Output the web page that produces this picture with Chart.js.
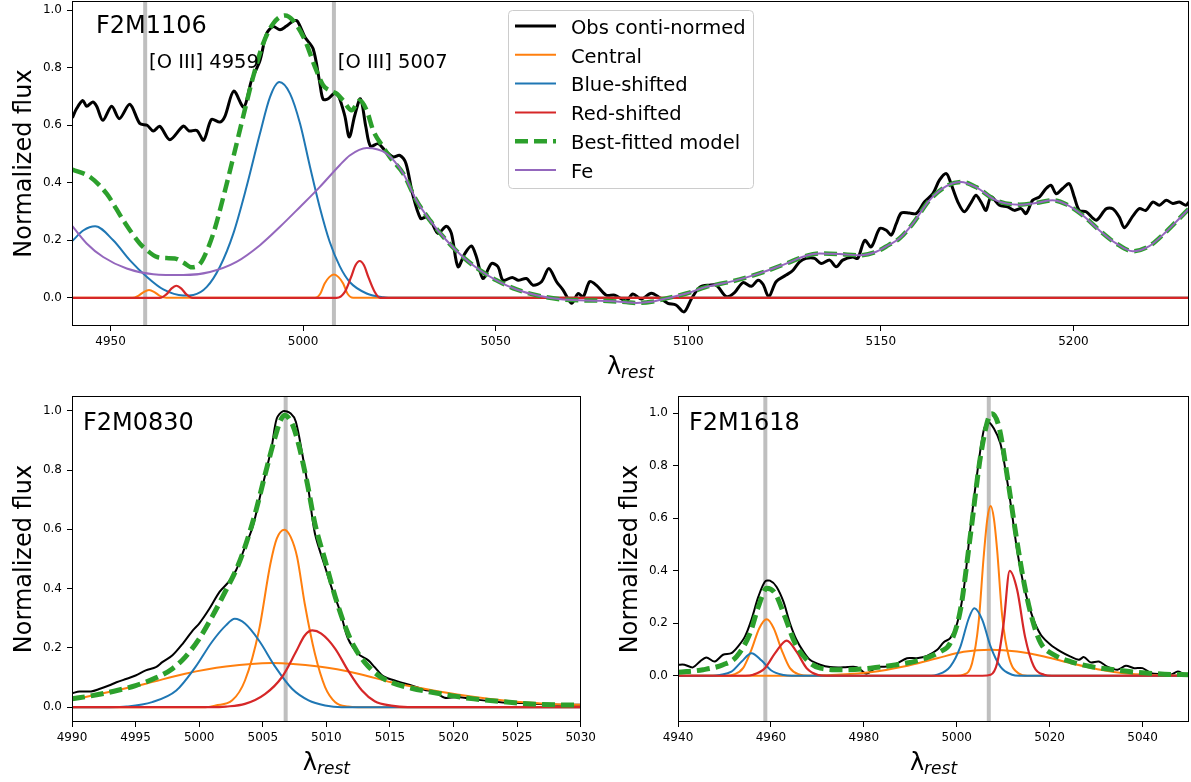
<!DOCTYPE html>
<html>
<head>
<meta charset="utf-8">
<title>[O III] fits</title>
<script src="https://cdn.jsdelivr.net/npm/chart.js@4.4.0/dist/chart.umd.min.js"></script>
<style>
    html, body { margin: 0; padding: 0; background: #fff; }
    #fig { position: relative; width: 1191px; height: 782px; overflow: hidden; }
    #fig canvas { position: absolute; }
</style>
</head>
<body>
<div id="fig">
    <canvas id="chart_f2m1106" width="1191" height="390" style="left:0;top:0"></canvas>
    <canvas id="chart_f2m0830" width="600" height="392" style="left:0;top:390px"></canvas>
    <canvas id="chart_f2m1618" width="591" height="392" style="left:600px;top:390px"></canvas>
</div>
<script>
// ---------- F2M1106 : [O III] + Fe II, 4940-5230 ----------
const F1106_OBS = [
    [4940.1, 0.626], [4941.2, 0.658], [4942.8, 0.686], [4943.8, 0.666], [4945.4, 0.681], [4946.4, 0.666],
    [4948.0, 0.617], [4950.3, 0.666], [4952.3, 0.623], [4955.0, 0.673], [4957.6, 0.606], [4959.5, 0.600],
    [4961.1, 0.580], [4962.8, 0.596], [4965.4, 0.550], [4968.9, 0.597], [4970.4, 0.580], [4972.4, 0.582],
    [4974.2, 0.548], [4976.2, 0.620], [4978.4, 0.611], [4979.7, 0.631], [4982.0, 0.719], [4984.6, 0.663],
    [4986.6, 0.756], [4988.8, 0.825], [4990.5, 0.918], [4992.2, 0.943], [4994.0, 0.932], [4995.5, 0.943],
    [4997.4, 0.962], [4998.5, 0.962], [5000.5, 0.906], [5002.6, 0.866], [5004.3, 0.750], [5005.2, 0.690],
    [5006.5, 0.692], [5008.0, 0.710], [5009.1, 0.705], [5010.8, 0.634], [5012.0, 0.559], [5013.4, 0.634],
    [5014.9, 0.692], [5016.3, 0.594], [5017.5, 0.527], [5019.5, 0.536], [5021.2, 0.513], [5023.4, 0.490],
    [5025.1, 0.495], [5026.7, 0.467], [5028.4, 0.362], [5030.5, 0.276], [5032.0, 0.281], [5033.3, 0.264],
    [5035.0, 0.224], [5037.2, 0.249], [5038.5, 0.224], [5040.2, 0.108], [5042.0, 0.154], [5043.7, 0.180],
    [5045.0, 0.142], [5046.7, 0.067], [5048.9, 0.119], [5050.6, 0.108], [5051.9, 0.061], [5054.3, 0.071],
    [5055.8, 0.061], [5058.0, 0.067], [5059.7, 0.044], [5061.9, 0.056], [5063.8, 0.102], [5065.8, 0.056],
    [5067.5, 0.027], [5069.7, -0.019], [5071.4, 0.015], [5072.7, 0.003], [5074.4, 0.056], [5076.1, 0.044],
    [5078.7, 0.009], [5080.9, 0.009], [5083.9, -0.010], [5085.6, 0.013], [5087.8, -0.004], [5090.4, 0.016],
    [5092.6, 0.000], [5094.7, -0.019], [5096.8, -0.025], [5098.9, -0.049], [5100.8, -0.004], [5103.0, 0.037],
    [5105.5, 0.044], [5107.3, 0.044], [5109.9, 0.004], [5112.0, 0.018], [5114.2, 0.053], [5116.4, 0.040],
    [5118.1, 0.061], [5119.4, 0.047], [5120.9, 0.004], [5122.8, 0.056], [5125.4, 0.079], [5127.2, 0.096],
    [5128.9, 0.125], [5130.6, 0.137], [5132.8, 0.137], [5134.5, 0.119], [5136.7, 0.131], [5138.4, 0.108],
    [5140.1, 0.131], [5142.7, 0.142], [5144.0, 0.137], [5145.8, 0.200], [5147.5, 0.177], [5149.7, 0.241],
    [5151.4, 0.235], [5152.7, 0.218], [5154.0, 0.258], [5155.3, 0.295], [5157.4, 0.295], [5159.2, 0.293],
    [5161.3, 0.333], [5163.5, 0.362], [5165.2, 0.409], [5167.0, 0.432], [5168.2, 0.397], [5170.0, 0.333],
    [5171.7, 0.299], [5173.5, 0.333], [5174.7, 0.357], [5176.0, 0.333], [5177.3, 0.304], [5178.6, 0.351],
    [5180.8, 0.322], [5182.9, 0.316], [5184.7, 0.304], [5186.4, 0.310], [5187.7, 0.293], [5189.4, 0.339],
    [5191.2, 0.351], [5192.9, 0.380], [5194.2, 0.391], [5195.5, 0.362], [5197.2, 0.380], [5198.9, 0.397],
    [5200.2, 0.351], [5201.5, 0.304], [5203.3, 0.299], [5205.9, 0.270], [5208.5, 0.310], [5210.2, 0.310],
    [5211.9, 0.281], [5213.2, 0.244], [5215.4, 0.284], [5217.1, 0.310], [5218.8, 0.304], [5220.6, 0.333],
    [5222.3, 0.322], [5224.1, 0.339], [5225.8, 0.328], [5227.5, 0.333], [5229.2, 0.322], [5230.0, 0.333],
];
const F1106_FE = [
    [4940.1, 0.249], [4943.8, 0.189], [4948.1, 0.142], [4954.2, 0.102], [4961.1, 0.082], [4968.9, 0.079],
    [4975.8, 0.090], [4982.7, 0.125], [4988.8, 0.183], [4994.0, 0.247], [4999.2, 0.316], [5004.3, 0.385],
    [5009.5, 0.461], [5012.1, 0.495], [5016.5, 0.521], [5021.7, 0.501], [5026.0, 0.432], [5029.4, 0.339],
    [5032.9, 0.270], [5037.2, 0.200], [5041.5, 0.142], [5045.9, 0.096], [5050.2, 0.061], [5055.4, 0.029],
    [5060.6, 0.009], [5067.5, -0.006], [5077.0, -0.010], [5083.9, -0.015], [5086.5, -0.018], [5090.4, -0.014],
    [5094.3, -0.002], [5099.5, 0.015], [5104.7, 0.038], [5111.6, 0.058], [5118.5, 0.085], [5125.4, 0.119],
    [5130.6, 0.146], [5134.1, 0.154], [5139.3, 0.152], [5144.5, 0.148], [5148.8, 0.160], [5152.2, 0.185],
    [5154.8, 0.206], [5158.3, 0.258], [5162.6, 0.339], [5167.0, 0.388], [5170.8, 0.403], [5174.7, 0.385],
    [5179.9, 0.339], [5186.0, 0.324], [5190.3, 0.330], [5194.6, 0.339], [5198.1, 0.325], [5202.4, 0.287],
    [5206.7, 0.235], [5211.1, 0.189], [5215.4, 0.162], [5219.7, 0.180], [5224.0, 0.229], [5227.5, 0.276],
    [5230.0, 0.310],
];
const F1106_MODEL = [
    [4940.1, 0.446], [4944.7, 0.420], [4949.0, 0.362], [4953.3, 0.270], [4957.6, 0.189], [4959.5, 0.165],
    [4962.0, 0.142], [4964.5, 0.138], [4966.7, 0.137], [4969.0, 0.122], [4971.1, 0.106], [4973.0, 0.115],
    [4974.1, 0.137], [4976.7, 0.224], [4979.3, 0.351], [4981.9, 0.490], [4984.4, 0.628], [4987.0, 0.767],
    [4989.6, 0.883], [4992.2, 0.953], [4995.3, 0.982], [4997.4, 0.964], [5000.5, 0.895], [5003.1, 0.802],
    [5005.2, 0.739], [5007.0, 0.720], [5008.7, 0.710], [5010.4, 0.686], [5012.6, 0.652], [5014.7, 0.686],
    [5016.5, 0.652], [5018.2, 0.582], [5020.8, 0.524], [5022.5, 0.490], [5026.0, 0.432], [5029.4, 0.339],
    [5032.9, 0.270], [5037.2, 0.200], [5041.5, 0.142], [5045.9, 0.096], [5050.2, 0.061], [5055.4, 0.029],
    [5060.6, 0.009], [5067.5, -0.006], [5077.0, -0.010], [5083.9, -0.015], [5086.5, -0.018], [5090.4, -0.014],
    [5094.3, -0.002], [5099.5, 0.015], [5104.7, 0.038], [5111.6, 0.058], [5118.5, 0.085], [5125.4, 0.119],
    [5130.6, 0.146], [5134.1, 0.154], [5139.3, 0.152], [5144.5, 0.148], [5148.8, 0.160], [5152.2, 0.185],
    [5154.8, 0.206], [5158.3, 0.258], [5162.6, 0.339], [5167.0, 0.388], [5170.8, 0.403], [5174.7, 0.385],
    [5179.9, 0.339], [5186.0, 0.324], [5190.3, 0.330], [5194.6, 0.339], [5198.1, 0.325], [5202.4, 0.287],
    [5206.7, 0.235], [5211.1, 0.189], [5215.4, 0.162], [5219.7, 0.180], [5224.0, 0.229], [5227.5, 0.276],
    [5230.0, 0.310],
];
const F1106_CENTRAL = [
    [4940.0, 0], [4955.7, 0], [4957.2, 0.007], [4958.6, 0.020], [4960.0, 0.027], [4961.4, 0.020],
    [4962.8, 0.007], [4964.5, 0], [5003.1, 0], [5004.5, 0.015], [5005.6, 0.050], [5006.8, 0.072],
    [5008.0, 0.081], [5009.2, 0.072], [5010.4, 0.050], [5011.5, 0.015], [5013.0, 0], [5230.0, 0],
];
const F1106_BLUE = [
    [4940.1, 0.198], [4943.0, 0.235], [4946.0, 0.249], [4950.7, 0.200], [4955.0, 0.131], [4959.4, 0.073],
    [4963.7, 0.029], [4968.9, 0.008], [4971.5, 0.010], [4975.0, 0.038], [4978.4, 0.108], [4981.9, 0.224],
    [4985.3, 0.385], [4988.8, 0.571], [4991.4, 0.698], [4993.8, 0.750], [4996.6, 0.710], [4999.2, 0.606],
    [5001.8, 0.455], [5004.3, 0.316], [5006.9, 0.195], [5009.5, 0.110], [5012.1, 0.055], [5016.5, 0.015],
    [5020.8, 0.002], [5024.0, 0], [5230.0, 0],
];
const F1106_RED = [
    [4940.0, 0], [4962.8, 0], [4964.5, 0.012], [4965.8, 0.032], [4967.1, 0.042], [4968.4, 0.032],
    [4969.7, 0.012], [4971.4, 0], [5008.7, 0], [5010.8, 0.020], [5012.4, 0.070], [5013.6, 0.113],
    [5014.7, 0.128], [5015.8, 0.113], [5017.0, 0.070], [5018.6, 0.020], [5020.0, 0], [5230.0, 0],
];
const F1106_OIII = [4959.0, 5008.0];

// ---------- F2M0830 : [O III] 5007, 4990-5030 ----------
const F0830_OBS = [
    [4990.0, 0.047], [4990.6, 0.053], [4991.5, 0.053], [4992.2, 0.062], [4992.9, 0.073], [4993.5, 0.084],
    [4994.3, 0.096], [4995.0, 0.107], [4995.8, 0.124], [4996.6, 0.135], [4997.1, 0.152], [4997.9, 0.175],
    [4998.7, 0.214], [4999.5, 0.259], [5000.0, 0.282], [5000.8, 0.332], [5001.6, 0.389], [5002.3, 0.422],
    [5002.9, 0.462], [5003.5, 0.529], [5004.2, 0.608], [5004.9, 0.732], [5005.7, 0.878], [5006.1, 0.974],
    [5006.6, 0.999], [5007.2, 0.991], [5007.6, 0.963], [5008.1, 0.856], [5008.6, 0.732], [5009.1, 0.586],
    [5009.9, 0.473], [5010.4, 0.405], [5011.1, 0.321], [5011.7, 0.231], [5012.5, 0.180], [5013.3, 0.158],
    [5013.8, 0.135], [5014.5, 0.104], [5015.6, 0.087], [5016.7, 0.073], [5017.7, 0.059], [5018.5, 0.051],
    [5019.3, 0.032], [5020.3, 0.034], [5021.9, 0.025], [5023.7, 0.017], [5025.5, 0.014], [5027.6, 0.009],
    [5029.7, 0.008], [5030.0, 0.008],
];
const F0830_MODEL = [
    [4990.0, 0.028], [4991.6, 0.039], [4993.2, 0.053], [4995.0, 0.073], [4996.6, 0.099], [4997.9, 0.130],
    [4998.9, 0.169], [5000.0, 0.231], [5001.0, 0.304], [5002.1, 0.394], [5003.0, 0.473], [5003.6, 0.541],
    [5004.4, 0.653], [5005.2, 0.788], [5005.9, 0.901], [5006.4, 0.968], [5006.7, 0.985], [5007.3, 0.957],
    [5007.8, 0.890], [5008.5, 0.755], [5009.1, 0.619], [5009.9, 0.495], [5010.7, 0.372], [5011.5, 0.270],
    [5012.2, 0.203], [5013.0, 0.152], [5014.1, 0.107], [5015.1, 0.084], [5016.7, 0.064], [5018.2, 0.051],
    [5019.8, 0.039], [5021.6, 0.028], [5023.7, 0.019], [5026.1, 0.011], [5028.2, 0.008], [5030.0, 0.007],
];
const F0830_CENTRAL_BROAD = [
    [4990.0, 0.025], [4992.9, 0.051], [4995.8, 0.079], [4998.9, 0.113], [5002.1, 0.137], [5005.7, 0.149],
    [5009.4, 0.137], [5012.5, 0.113], [5015.1, 0.084], [5017.7, 0.062], [5020.3, 0.043], [5022.9, 0.028],
    [5025.5, 0.017], [5029.7, 0.008], [5030.0, 0.008],
];
const F0830_CENTRAL_NARROW = [
    [4990.0, 0], [5000.5, 0], [5001.3, 0.006], [5002.6, 0.023], [5003.6, 0.090], [5004.7, 0.259],
    [5005.6, 0.484], [5006.1, 0.569], [5006.7, 0.599], [5007.2, 0.574], [5007.7, 0.507], [5008.3, 0.349],
    [5009.1, 0.180], [5009.9, 0.068], [5010.7, 0.017], [5011.7, 0.002], [5012.5, 0], [5030.0, 0],
];
const F0830_BLUE = [
    [4990.0, 0], [4993.0, 0], [4994.3, 0.002], [4996.3, 0.017], [4998.2, 0.056], [4999.7, 0.135],
    [5001.0, 0.220], [5002.1, 0.276], [5002.8, 0.298], [5003.6, 0.282], [5004.7, 0.225], [5006.0, 0.135],
    [5007.3, 0.062], [5008.6, 0.023], [5009.9, 0.006], [5011.2, 0], [5030.0, 0],
];
const F0830_RED = [
    [4990.0, 0], [5001.0, 0], [5002.1, 0.002], [5003.6, 0.011], [5005.2, 0.045], [5006.5, 0.101],
    [5007.6, 0.186], [5008.3, 0.242], [5008.9, 0.259], [5009.6, 0.248], [5010.7, 0.197], [5011.7, 0.124],
    [5012.8, 0.056], [5013.8, 0.020], [5015.1, 0.005], [5016.4, 0], [5030.0, 0],
];
const F0830_OIII = [5006.8];

// ---------- F2M1618 : [O III] doublet, 4940-5050 ----------
const F1618_OBS = [
    [4940.0, 0.042], [4941.4, 0.042], [4943.2, 0.032], [4944.7, 0.054], [4946.1, 0.070], [4947.9, 0.054],
    [4949.7, 0.080], [4951.5, 0.086], [4952.9, 0.111], [4954.4, 0.149], [4955.8, 0.213], [4957.3, 0.301],
    [4958.7, 0.358], [4959.8, 0.362], [4961.2, 0.339], [4962.7, 0.282], [4964.1, 0.200], [4965.5, 0.137],
    [4967.0, 0.092], [4968.4, 0.061], [4970.6, 0.042], [4972.7, 0.033], [4975.6, 0.032], [4978.5, 0.033],
    [4980.6, 0.008], [4982.8, 0.033], [4985.0, 0.035], [4987.1, 0.046], [4989.3, 0.067], [4991.4, 0.067],
    [4993.6, 0.076], [4995.8, 0.099], [4997.2, 0.128], [4998.6, 0.143], [5000.1, 0.200], [5001.5, 0.327],
    [5002.9, 0.554], [5004.4, 0.770], [5005.8, 0.934], [5006.7, 0.966], [5008.0, 0.941], [5009.4, 0.884],
    [5010.5, 0.782], [5011.6, 0.656], [5013.0, 0.478], [5014.5, 0.339], [5016.3, 0.225], [5018.1, 0.156],
    [5020.2, 0.118], [5022.4, 0.092], [5024.5, 0.073], [5026.3, 0.061], [5027.4, 0.071], [5028.8, 0.051],
    [5030.6, 0.054], [5032.4, 0.035], [5034.6, 0.023], [5036.4, 0.038], [5038.2, 0.029], [5040.0, 0.029],
    [5041.8, 0.010], [5044.0, 0.006], [5046.1, 0.004], [5047.6, 0.016], [5049.0, 0.006], [5050.0, 0.008],
];
const F1618_MODEL = [
    [4940.0, 0.013], [4945.4, 0.023], [4949.7, 0.042], [4952.6, 0.073], [4955.5, 0.162], [4957.3, 0.263],
    [4959.1, 0.333], [4960.9, 0.314], [4963.0, 0.225], [4965.2, 0.124], [4967.7, 0.061], [4970.6, 0.029],
    [4975.6, 0.023], [4981.4, 0.029], [4987.1, 0.042], [4992.2, 0.061], [4996.5, 0.092], [4998.6, 0.124],
    [5000.8, 0.251], [5002.9, 0.529], [5005.1, 0.833], [5006.9, 0.985], [5007.6, 0.997], [5009.1, 0.947],
    [5010.9, 0.757], [5012.7, 0.542], [5014.5, 0.352], [5016.3, 0.213], [5018.1, 0.124], [5020.9, 0.080],
    [5024.5, 0.054], [5028.8, 0.035], [5033.9, 0.023], [5038.9, 0.013], [5044.7, 0.006], [5050.0, 0.004],
];
const F1618_CENTRAL_BROAD = [
    [4940.0, 0], [4967.0, 0], [4974.2, 0.004], [4981.4, 0.013], [4988.6, 0.035], [4995.8, 0.067],
    [5001.5, 0.091], [5007.3, 0.099], [5013.0, 0.092], [5018.8, 0.073], [5024.5, 0.048], [5030.3, 0.025],
    [5036.0, 0.010], [5042.5, 0.003], [5050.0, 0],
];
const F1618_CENTRAL_NARROW = [
    [4940.0, 0], [4950.5, 0], [4951.9, 0.004], [4954.0, 0.029], [4955.8, 0.099], [4957.5, 0.181],
    [4959.1, 0.215], [4960.6, 0.181], [4962.3, 0.099], [4964.1, 0.029], [4966.3, 0.004], [4968.0, 0],
    [5000.0, 0], [5001.5, 0.004], [5003.3, 0.048], [5004.7, 0.200], [5005.8, 0.453], [5006.6, 0.598],
    [5007.3, 0.646], [5008.0, 0.598], [5008.7, 0.478], [5009.8, 0.225], [5011.2, 0.073], [5013.4, 0.008],
    [5015.2, 0], [5050.0, 0],
];
const F1618_BLUE = [
    [4940.0, 0], [4947.5, 0], [4949.0, 0.003], [4951.5, 0.016], [4953.7, 0.054], [4955.8, 0.086],
    [4958.0, 0.058], [4960.1, 0.020], [4962.7, 0.003], [4964.5, 0], [4994.5, 0], [4995.8, 0.004],
    [4998.6, 0.035], [5000.8, 0.111], [5002.6, 0.219], [5003.8, 0.257], [5005.5, 0.213], [5007.3, 0.111],
    [5009.4, 0.035], [5011.9, 0.004], [5013.5, 0], [5050.0, 0],
];
const F1618_RED = [
    [4940.0, 0], [4954.5, 0], [4956.2, 0.004], [4958.7, 0.029], [4960.9, 0.086], [4963.4, 0.134],
    [4965.5, 0.092], [4967.7, 0.029], [4970.2, 0.003], [4972.0, 0], [5005.5, 0], [5007.3, 0.004],
    [5008.7, 0.048], [5010.1, 0.200], [5011.4, 0.399], [5013.0, 0.327], [5014.7, 0.149], [5016.6, 0.035],
    [5018.8, 0.004], [5020.5, 0], [5050.0, 0],
];
const F1618_OIII = [4958.8, 5006.9];

// ---------- axes ----------
const TICKS_1106_X = [4950, 5000, 5050, 5100, 5150, 5200];
const TICKS_0830_X = [4990, 4995, 5000, 5005, 5010, 5015, 5020, 5025, 5030];
const TICKS_1618_X = [4940, 4960, 4980, 5000, 5020, 5040];
const TICKS_FLUX = [0, 0.2, 0.4, 0.6, 0.8, 1.0];

const LEGEND_LABELS = ["Obs conti-normed", "Central", "Blue-shifted", "Red-shifted", "Best-fitted model", "Fe"];

const FONT = '"DejaVu Sans", "Liberation Sans", sans-serif';
const COLORS = {
    obs: "#000000",
    central: "#ff7f0e",
    blue: "#1f77b4",
    red: "#d62728",
    model: "#2ca02c",
    fe: "#9467bd",
    oiii: "#bfbfbf",
};

Chart.defaults.font.family = FONT;
Chart.defaults.color = "#000";

const toXY = (arr) => arr.map(([x, y]) => ({ x, y }));

const lineSet = (data, color, width, order, extra = {}) => ({
    data: toXY(data),
    borderColor: color,
    backgroundColor: color,
    borderWidth: width,
    pointRadius: 0,
    fill: false,
    clip: 0,
    order: order,
    borderJoinStyle: "round",
    cubicInterpolationMode: "monotone",
    ...extra,
});

const vlines = (xs) => xs.map((x) => lineSet([[x, -5], [x, 5]], COLORS.oiii, 4, 20, { cubicInterpolationMode: "default" }));

// black box around the plotting area, drawn over the curves
const framePlugin = {
    id: "frame",
    afterDatasetsDraw(chart) {
        const { ctx, chartArea: a } = chart;
        ctx.save();
        ctx.strokeStyle = "#000";
        ctx.lineWidth = 1;
        const l = Math.round(a.left) + 0.5;
        const t = Math.round(a.top) + 0.5;
        const r = Math.round(a.right) - 0.5;
        const b = Math.round(a.bottom) - 0.5;
        ctx.strokeRect(l, t, r - l, b - t);
        ctx.restore();
    },
};

const drawLegend = (ctx) => {
    const box = { x: 508.5, y: 10.5, w: 245, h: 178 };
    const rad = 4;
    ctx.save();
    ctx.beginPath();
    ctx.moveTo(box.x + rad, box.y);
    ctx.arcTo(box.x + box.w, box.y, box.x + box.w, box.y + box.h, rad);
    ctx.arcTo(box.x + box.w, box.y + box.h, box.x, box.y + box.h, rad);
    ctx.arcTo(box.x, box.y + box.h, box.x, box.y, rad);
    ctx.arcTo(box.x, box.y, box.x + box.w, box.y, rad);
    ctx.closePath();
    ctx.fillStyle = "rgba(255,255,255,0.8)";
    ctx.fill();
    ctx.strokeStyle = "#cccccc";
    ctx.lineWidth = 1;
    ctx.stroke();

    const styles = [
        { color: COLORS.obs, width: 3, dash: [] },
        { color: COLORS.central, width: 2, dash: [] },
        { color: COLORS.blue, width: 2, dash: [] },
        { color: COLORS.red, width: 2, dash: [] },
        { color: COLORS.model, width: 4.5, dash: [13, 6] },
        { color: COLORS.fe, width: 2, dash: [] },
    ];
    ctx.font = "19.5px " + FONT;
    ctx.textAlign = "left";
    ctx.textBaseline = "alphabetic";
    LEGEND_LABELS.forEach((label, i) => {
        const yc = 26 + i * 28.8;
        const s = styles[i];
        ctx.beginPath();
        ctx.setLineDash(s.dash);
        ctx.strokeStyle = s.color;
        ctx.lineWidth = s.width;
        ctx.moveTo(515, yc);
        ctx.lineTo(556, yc);
        ctx.stroke();
        ctx.setLineDash([]);
        ctx.fillStyle = "#000";
        ctx.fillText(label, 571, yc + 7.8);
    });
    ctx.restore();
};

// axis titles, object name, line names and legend
const labelsPlugin = (spec) => ({
    id: "labels",
    afterDraw(chart) {
        const { ctx, chartArea: a, scales } = chart;
        ctx.save();
        ctx.fillStyle = "#000";
        ctx.textBaseline = "alphabetic";

        ctx.font = "24px " + FONT;
        ctx.textAlign = "left";
        ctx.fillText(spec.name, a.left + spec.nameDx, a.top + spec.nameDy);

        ctx.save();
        ctx.translate(a.left - 41, (a.top + a.bottom) / 2);
        ctx.rotate(-Math.PI / 2);
        ctx.textAlign = "center";
        ctx.fillText("Normalized flux", 0, 0);
        ctx.restore();

        // lambda with italic "rest" subscript
        const xc = (a.left + a.right) / 2;
        const yb = a.bottom + 48;
        ctx.font = "24px " + FONT;
        const w1 = ctx.measureText("λ").width;
        ctx.font = "italic 17px " + FONT;
        const w2 = ctx.measureText("rest").width;
        const x0 = xc - (w1 + w2) / 2;
        ctx.textAlign = "left";
        ctx.font = "24px " + FONT;
        ctx.fillText("λ", x0, yb);
        ctx.font = "italic 17px " + FONT;
        ctx.fillText("rest", x0 + w1, yb + 4);

        if (spec.lineNames) {
            ctx.font = "19.5px " + FONT;
            spec.lineNames.forEach(([text, x, y]) => {
                ctx.fillText(text, scales.x.getPixelForValue(x), scales.y.getPixelForValue(y));
            });
        }
        if (spec.legend) drawLegend(ctx);
        ctx.restore();
    },
});

const makePanel = (id, p) => {
    const datasets = [
        ...vlines(p.oiii),
        lineSet(p.obs, COLORS.obs, p.obsWidth, 10, { cubicInterpolationMode: "default", tension: 0.3 }),
        ...p.central.map((c) => lineSet(c, COLORS.central, 2, 8)),
        lineSet(p.blue, COLORS.blue, 2, 7),
        lineSet(p.red, COLORS.red, 2.2, 6),
        lineSet(p.model, COLORS.model, p.modelWidth, 5, { borderDash: [13, 6], borderCapStyle: "butt" }),
    ];
    if (p.fe) datasets.push(lineSet(p.fe, COLORS.fe, 2, 4));

    return new Chart(document.getElementById(id), {
        type: "line",
        data: { datasets },
        options: {
            responsive: false,
            animation: false,
            events: [],
            layout: { padding: p.padding },
            plugins: {
                legend: { display: false },
                tooltip: { enabled: false },
            },
            scales: {
                x: {
                    type: "linear",
                    min: p.xmin,
                    max: p.xmax,
                    afterFit: (s) => { s.height = 40; },
                    afterBuildTicks: (s) => { s.ticks = p.xticks.map((v) => ({ value: v })); },
                    ticks: {
                        autoSkip: false,
                        maxRotation: 0,
                        padding: 4,
                        color: "#000",
                        font: { size: 12 },
                        callback: (v) => String(v),
                    },
                    grid: { drawOnChartArea: false, drawTicks: true, tickLength: 5, color: "#000", lineWidth: 1 },
                    border: { display: false },
                },
                y: {
                    type: "linear",
                    min: p.ymin,
                    max: p.ymax,
                    // fixed axis width, no extra room for the end labels
                    afterFit: (s) => {
                        s.width = p.yWidth;
                        s.paddingTop = 0;
                        s.paddingBottom = 0;
                    },
                    afterBuildTicks: (s) => { s.ticks = TICKS_FLUX.map((v) => ({ value: v })); },
                    ticks: {
                        autoSkip: false,
                        padding: 5,
                        color: "#000",
                        font: { size: 12 },
                        callback: (v) => Number(v).toFixed(1),
                    },
                    grid: { drawOnChartArea: false, drawTicks: true, tickLength: 5, color: "#000", lineWidth: 1 },
                    border: { display: false },
                },
            },
        },
        plugins: [framePlugin, labelsPlugin(p.labels)],
    });
};

makePanel("chart_f2m1106", {
    obs: F1106_OBS, model: F1106_MODEL, fe: F1106_FE,
    central: [F1106_CENTRAL], blue: F1106_BLUE, red: F1106_RED, oiii: F1106_OIII,
    obsWidth: 3, modelWidth: 4.5,
    xmin: 4940, xmax: 5230, ymin: -0.098, ymax: 1.032, xticks: TICKS_1106_X,
    yWidth: 72, padding: { left: 0, right: 2, top: 1, bottom: 24 },
    labels: {
        name: "F2M1106", nameDx: 24, nameDy: 32, legend: true,
        lineNames: [["[O III] 4959", 4960.0, 0.8], ["[O III] 5007", 5009.0, 0.8]],
    },
});

makePanel("chart_f2m0830", {
    obs: F0830_OBS, model: F0830_MODEL,
    central: [F0830_CENTRAL_BROAD, F0830_CENTRAL_NARROW], blue: F0830_BLUE, red: F0830_RED, oiii: F0830_OIII,
    obsWidth: 2, modelWidth: 5,
    xmin: 4990, xmax: 5030, ymin: -0.05, ymax: 1.05, xticks: TICKS_0830_X,
    yWidth: 72, padding: { left: 0, right: 17, top: 6, bottom: 20 },
    labels: { name: "F2M0830", nameDx: 11, nameDy: 33.5 },
});

makePanel("chart_f2m1618", {
    obs: F1618_OBS, model: F1618_MODEL,
    central: [F1618_CENTRAL_BROAD, F1618_CENTRAL_NARROW], blue: F1618_BLUE, red: F1618_RED, oiii: F1618_OIII,
    obsWidth: 2, modelWidth: 5,
    xmin: 4940, xmax: 5050, ymin: -0.176, ymax: 1.065, xticks: TICKS_1618_X,
    yWidth: 78, padding: { left: 0, right: 2, top: 6, bottom: 20 },
    labels: { name: "F2M1618", nameDx: 11, nameDy: 33.5 },
});
</script>
</body>
</html>
